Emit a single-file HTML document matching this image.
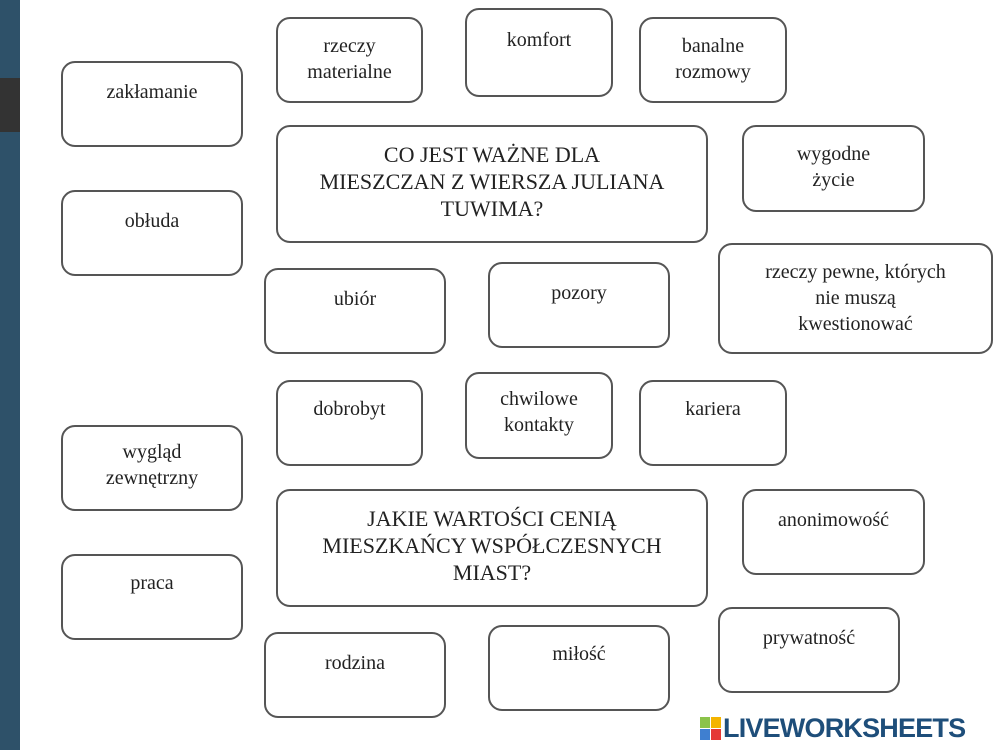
<!DOCTYPE html>
<html><head><meta charset="utf-8"><style>
body{margin:0;width:1000px;height:750px;background:#fff;position:relative;overflow:hidden;font-family:"Liberation Serif",serif;color:#222}
.b{position:absolute;border:2px solid #555;border-radius:14px;box-sizing:border-box;text-align:center;font-size:20px;line-height:26px}
.q{font-size:22px;line-height:27px}
</style></head><body>
<div style="position:absolute;left:0;top:0;width:20px;height:750px;background:#2e5169"></div>
<div style="position:absolute;left:0;top:78px;width:20px;height:54px;background:#333"></div>

<div class="b" style="left:61px;top:61px;width:182px;height:86px;padding-top:16px">zakłamanie</div>
<div class="b" style="left:276px;top:17px;width:147px;height:86px;padding-top:14px">rzeczy<br>materialne</div>
<div class="b" style="left:465px;top:8px;width:148px;height:89px;padding-top:17px">komfort</div>
<div class="b" style="left:639px;top:17px;width:148px;height:86px;padding-top:14px">banalne<br>rozmowy</div>
<div class="b q" style="left:276px;top:125px;width:432px;height:118px;padding-top:14px">CO JEST WAŻNE DLA<br>MIESZCZAN Z WIERSZA JULIANA<br>TUWIMA?</div>
<div class="b" style="left:742px;top:125px;width:183px;height:87px;padding-top:14px">wygodne<br>życie</div>
<div class="b" style="left:61px;top:190px;width:182px;height:86px;padding-top:16px">obłuda</div>
<div class="b" style="left:264px;top:268px;width:182px;height:86px;padding-top:16px">ubiór</div>
<div class="b" style="left:488px;top:262px;width:182px;height:86px;padding-top:16px">pozory</div>
<div class="b" style="left:718px;top:243px;width:275px;height:111px;padding-top:14px">rzeczy pewne, których<br>nie muszą<br>kwestionować</div>
<div class="b" style="left:276px;top:380px;width:147px;height:86px;padding-top:14px">dobrobyt</div>
<div class="b" style="left:465px;top:372px;width:148px;height:87px;padding-top:12px">chwilowe<br>kontakty</div>
<div class="b" style="left:639px;top:380px;width:148px;height:86px;padding-top:14px">kariera</div>
<div class="b" style="left:61px;top:425px;width:182px;height:86px;padding-top:12px">wygląd<br>zewnętrzny</div>
<div class="b q" style="left:276px;top:489px;width:432px;height:118px;padding-top:14px">JAKIE WARTOŚCI CENIĄ<br>MIESZKAŃCY WSPÓŁCZESNYCH<br>MIAST?</div>
<div class="b" style="left:742px;top:489px;width:183px;height:86px;padding-top:16px">anonimowość</div>
<div class="b" style="left:61px;top:554px;width:182px;height:86px;padding-top:14px">praca</div>
<div class="b" style="left:264px;top:632px;width:182px;height:86px;padding-top:16px">rodzina</div>
<div class="b" style="left:488px;top:625px;width:182px;height:86px;padding-top:14px">miłość</div>
<div class="b" style="left:718px;top:607px;width:182px;height:86px;padding-top:16px">prywatność</div>

<div style="position:absolute;left:700px;top:717px;width:22px;height:24px">
<div style="position:absolute;left:0;top:0;width:10px;height:11px;background:#8bc34a"></div>
<div style="position:absolute;left:11px;top:0;width:10px;height:11px;background:#f4b400"></div>
<div style="position:absolute;left:0;top:12px;width:10px;height:11px;background:#3f7fd0"></div>
<div style="position:absolute;left:11px;top:12px;width:10px;height:11px;background:#e53935"></div>
</div>
<div style="position:absolute;left:723px;top:713px;font-family:'Liberation Sans',sans-serif;font-weight:bold;font-size:27px;color:#1e4e7a;letter-spacing:-0.8px">LIVEWORKSHEETS</div>
</body></html>
